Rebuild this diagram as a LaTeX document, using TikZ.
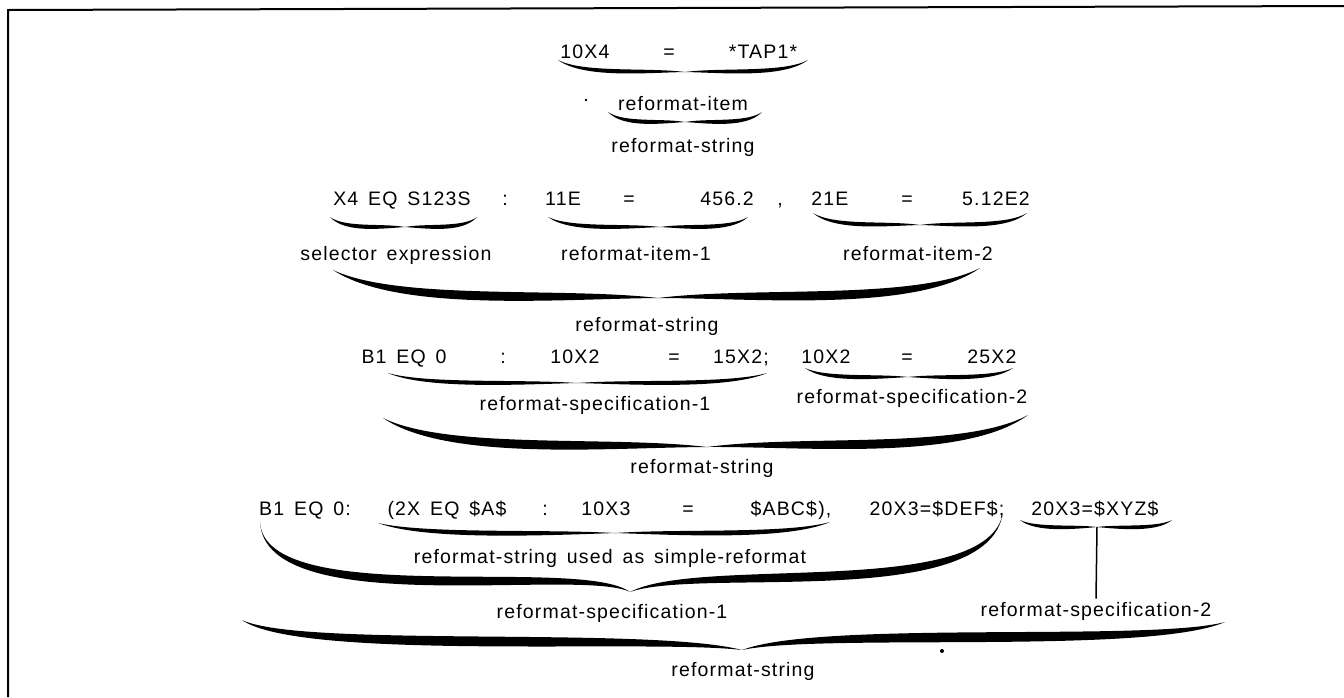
\documentclass[tikz,border=0pt]{standalone}
\usepackage{fontspec}
\setmainfont{Liberation Sans}[LetterSpace=6,WordSpace=1.5]
\usetikzlibrary{calc}

% text size used throughout
\newcommand\txtsize{\fontsize{19.5}{23}\selectfont}

% one calligraphic half of a brace: end, control 1, control 2, tip, thickness
\newcommand\hbr[9]{%
  \fill ({#1},{#2}) .. controls ({#3},{#4}) and ({#5},{#6}) .. ({#7},{#8})
        .. controls ({#5},{#6+#9}) and ({#3},{#4+#9}) .. ({#1},{#2}) -- cycle;}

% a whole under-brace: left end, tip, right end, thickness
\newcommand\ubr[7]{%
  \hbr{#1}{#2}{#1+0.2*(#3-#1)}{#2+1.1*(#4-#2)}{#3-0.3*(#3-#1)}{#2+0.6*(#4-#2)}{#3}{#4}{#7}%
  \hbr{#5}{#6}{#5-0.2*(#5-#3)}{#6+1.1*(#4-#6)}{#3+0.3*(#5-#3)}{#6+0.6*(#4-#6)}{#3}{#4}{#7}}

\begin{document}
\begin{tikzpicture}[x=1pt,y=-1pt,
  tok/.style={anchor=base, inner sep=0pt, font=\txtsize},
  lbl/.style={anchor=base, inner sep=3pt, font=\txtsize},
  frame/.style={line width=2pt},
  stem/.style={line width=1.5pt}]
\useasboundingbox (0,0) rectangle (1344,697);

% frame
\draw[frame] (8,697) -- (8,10) -- (1344,6);

% ---- example 1
\node[tok] (a1) at (585,58) {10X4};
\node[tok] (a2) at (669,58) {=};
\node[tok] (a3) at (763,58) {*TAP1*};
\ubr{558}{60}{685}{72}{808}{60}{5.5}
\node[lbl] (a4) at (683,110) {reformat-item};
\ubr{608}{112}{685}{122}{762}{112}{5.5}
\node[lbl] (a5) at (683,152) {reformat-string};

% ---- example 2
\node[tok] (b1) at (402,205) {X4 EQ S123S};
\node[tok] (b2) at (505,205) {:};
\node[tok] (b3) at (563,205) {11E};
\node[tok] (b4) at (629,205) {=};
\node[tok] (b5) at (727,205) {456.2};
\node[tok] (b6) at (780,205) {,};
\node[tok] (b7) at (830,205) {21E};
\node[tok] (b8) at (907,205) {=};
\node[tok] (b9) at (996,205) {5.12E2};
\ubr{330}{217}{405}{227}{477}{217}{5.5}
\ubr{548}{217}{660}{227}{748}{217}{5.5}
\ubr{813}{213}{920}{225}{1027}{213}{5.5}
\node[lbl] (b10) at (396,260) {selector expression};
\node[lbl] (b11) at (636,260) {reformat-item-1};
\node[lbl] (b12) at (918,260) {reformat-item-2};
\ubr{333}{270}{658}{298}{980}{268}{12}
\node[lbl] (b13) at (647,331) {reformat-string};

% ---- example 3
\node[tok] (c1) at (404,363) {B1 EQ 0};
\node[tok] (c2) at (503,363) {:};
\node[tok] (c3) at (575,363) {10X2};
\node[tok] (c4) at (674,363) {=};
\node[tok] (c5) at (741,363) {15X2;};
\node[tok] (c6) at (826,363) {10X2};
\node[tok] (c7) at (907,363) {=};
\node[tok] (c8) at (992,363) {25X2};
\ubr{388}{373}{577}{383}{767}{373}{5.5}
\ubr{805}{368}{908}{377}{1013}{368}{5.5}
\node[lbl] (c9) at (595,410) {reformat-specification-1};
\node[lbl] (c10) at (912,403) {reformat-specification-2};
\ubr{383}{418}{707}{447}{1028}{415}{12}
\node[lbl] (c11) at (702,473) {reformat-string};

% ---- example 4
\node[tok] (d1) at (305,515) {B1 EQ 0:};
\node[tok] (d2) at (447,515) {(2X EQ \$A\$};
\node[tok] (d3) at (545,515) {:};
\node[tok] (d4) at (606,515) {10X3};
\node[tok] (d5) at (688,515) {=};
\node[tok] (d6) at (791,515) {\$ABC\$),};
\node[tok] (d7) at (937,515) {20X3=\$DEF\$;};
\node[tok] (d8) at (1095,515) {20X3=\$XYZ\$};
\ubr{378}{523}{615}{533}{830}{522}{6.5}
\node[lbl] (d9) at (610,563) {reformat-string used as simple-reformat};
\hbr{260}{522}{265}{610}{580}{555}{630}{592}{12}
\hbr{1003}{512}{990}{600}{700}{555}{630}{592}{12}
\ubr{1020}{520}{1097}{527}{1172}{520}{5}
\coordinate (xyztip) at (1097,527);
\node[lbl] (d10) at (612,618) {reformat-specification-1};
\node[lbl] (d11) at (1096,616) {reformat-specification-2};
\draw[stem] (xyztip) -- (d11.north);
\hbr{242}{620}{300}{648}{650}{626}{742}{650}{13}
\hbr{1225}{622}{1150}{642}{820}{620}{742}{650}{13}
\node[lbl] (d12) at (743,676) {reformat-string};

% specks of ink
\fill (586,100) circle (1.3);
\fill (942,651) circle (2);
\end{tikzpicture}
\end{document}
